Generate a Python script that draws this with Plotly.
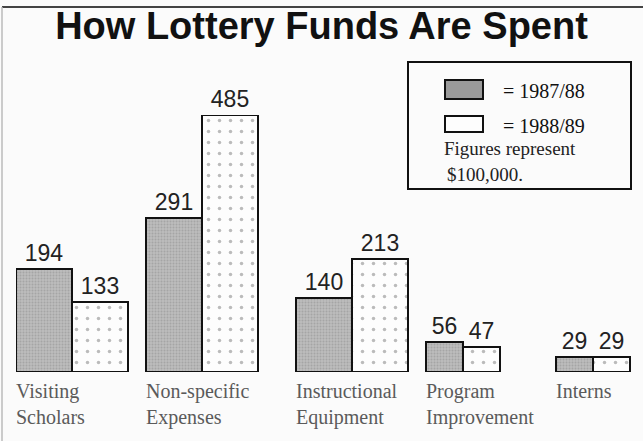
import plotly.graph_objects as go

# ---- data ----
categories = ["Visiting<br>Scholars", "Non-specific<br>Expenses", "Instructional<br>Equipment",
              "Program<br>Improvement", "Interns"]
funds_1987_88 = [194, 291, 140, 56, 29]
funds_1988_89 = [133, 485, 213, 47, 29]
series_names = ["= 1987/88", "= 1988/89"]
title_text = "How Lottery Funds Are Spent"
note_lines = ["Figures represent", "$100,000."]

# ---- layout geometry (pixels) ----
W, H = 643, 441
L, R, T, B = 16, 11, 115, 69
PW, PH = W - L - R, H - T - B
X_RANGE = [-0.43, 4.3]
UNIT = PW / (X_RANGE[1] - X_RANGE[0])

def px(x):
    return (x - L) / PW

def py(y):
    return (H - B - y) / PH

# bar styling: widths and small group shifts (category units)
bar_w = [0.43, 0.43, 0.43, 0.285, 0.285]
shift = [0, 0, 0.15, 0, 0]

fig = go.Figure()
fig.add_trace(go.Bar(
    x=categories, y=funds_1987_88, name=series_names[0],
    width=bar_w, offset=[-w + s for w, s in zip(bar_w, shift)],
    marker=dict(color="#bcbcbc", line=dict(color="#111", width=2),
                pattern=dict(shape=".", fgcolor="#8e8e8e", size=3, solidity=0.35)),
    text=funds_1987_88, textposition="outside", cliponaxis=False,
    textfont=dict(family="Liberation Sans", size=23, color="#222"),
    showlegend=False,
))
fig.add_trace(go.Bar(
    x=categories, y=funds_1988_89, name=series_names[1],
    width=bar_w, offset=shift,
    marker=dict(color="#fdfdfd", line=dict(color="#111", width=2),
                pattern=dict(shape=".", fgcolor="#7a7a7a", size=11, solidity=0.08)),
    text=funds_1988_89, textposition="outside", cliponaxis=False,
    textfont=dict(family="Liberation Sans", size=23, color="#222"),
    showlegend=False,
))

shapes = [
    # frame lines
    dict(type="line", xref="paper", yref="paper", x0=px(2), x1=px(643), y0=py(7), y1=py(7),
         line=dict(color="#444", width=2)),
    dict(type="line", xref="paper", yref="paper", x0=px(2), x1=px(2), y0=py(7), y1=py(441),
         line=dict(color="#bbb", width=1.5)),
    # legend box
    dict(type="rect", xref="paper", yref="paper", x0=px(408), x1=px(631), y0=py(62), y1=py(189),
         line=dict(color="#111", width=2), fillcolor="rgba(0,0,0,0)"),
    # legend swatches
    dict(type="rect", xref="paper", yref="paper", x0=px(445), x1=px(483), y0=py(80), y1=py(99),
         line=dict(color="#111", width=2), fillcolor="#9a9a9a"),
    dict(type="rect", xref="paper", yref="paper", x0=px(445), x1=px(483), y0=py(116), y1=py(132),
         line=dict(color="#111", width=2), fillcolor="#fdfdfd"),
]

serif = "Liberation Serif"
annotations = [
    dict(text=series_names[0], x=px(501), y=py(91), xref="paper", yref="paper",
         xanchor="left", yanchor="middle", showarrow=False,
         font=dict(family=serif, size=20, color="#111")),
    dict(text=series_names[1], x=px(501), y=py(126), xref="paper", yref="paper",
         xanchor="left", yanchor="middle", showarrow=False,
         font=dict(family=serif, size=20, color="#111")),
    dict(text=note_lines[0], x=px(442), y=py(148), xref="paper", yref="paper",
         xanchor="left", yanchor="middle", showarrow=False,
         font=dict(family=serif, size=19, color="#222")),
    dict(text=note_lines[1], x=px(445), y=py(174), xref="paper", yref="paper",
         xanchor="left", yanchor="middle", showarrow=False,
         font=dict(family=serif, size=19, color="#222")),
]

# category labels, left-aligned under each group
for i, cat in enumerate(categories):
    annotations.append(dict(
        text=cat, x=i, y=0, xref="x", yref="y", xanchor="left", yanchor="top",
        align="left", showarrow=False, yshift=-6,
        xshift=(-bar_w[i] + shift[i]) * UNIT - 2,
        font=dict(family=serif, size=20, color="#5a5a5a"),
    ))

fig.update_layout(
    width=W, height=H,
    margin=dict(l=L, r=R, t=T, b=B, pad=0),
    paper_bgcolor="#fbfbfb", plot_bgcolor="#fbfbfb",
    title=dict(text="<b>" + title_text + "</b>", x=0.5, xanchor="center",
               y=1 - 26 / H, yanchor="middle",
               font=dict(family="Liberation Sans", size=38, color="#111")),
    xaxis=dict(range=X_RANGE, showgrid=False, zeroline=False, showline=False,
               ticks="", showticklabels=False),
    yaxis=dict(range=[0, 485], visible=False),
    shapes=shapes, annotations=annotations,
    bargap=0, showlegend=False,
)

fig.write_html("out.html")
